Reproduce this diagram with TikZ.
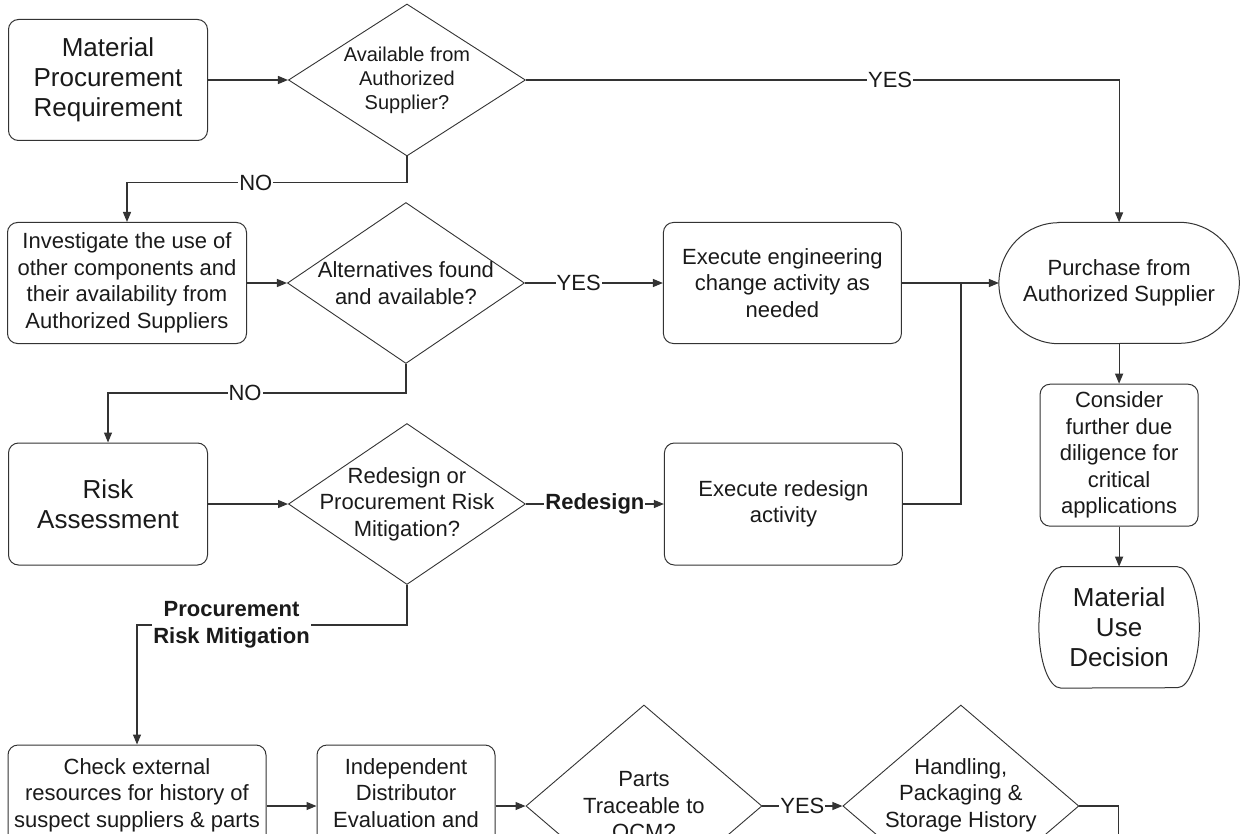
\documentclass[tikz,border=0pt]{standalone}
\usepackage{fontspec}
\setmainfont{Liberation Sans}
\usetikzlibrary{shapes.geometric, arrows.meta, positioning, calc}

\definecolor{linec}{HTML}{333333}
\definecolor{textc}{HTML}{1A1A1A}
\newcommand{\fbig}{\fontsize{26}{30}\selectfont}
\newcommand{\fmid}{\fontsize{22}{26.5}\selectfont}
\newcommand{\fsmall}{\fontsize{20}{24}\selectfont}
% outline of a terminal node: flat top and bottom, half-ellipse ends
\newcommand{\ovalbox}[2]{\draw[draw=linec, line width=1pt] ([xshift=#2]#1.north west) -- ([xshift=-#2]#1.north east) arc[start angle=90, end angle=-90, x radius=#2, y radius=60.5pt] -- ([xshift=#2]#1.south west) arc[start angle=270, end angle=90, x radius=#2, y radius=60.5pt] -- cycle;}

\begin{document}
\begin{tikzpicture}[x=1pt, y=1pt,
  proc/.style={draw=linec, line width=1pt, rounded corners=10pt, align=center, text=textc, font=\fmid, inner sep=4pt},
  decision/.style={diamond, draw=linec, line width=0.9pt, align=center, text=textc, font=\fmid, inner xsep=-300pt, inner ysep=-300pt, minimum width=237pt, minimum height=161pt},
  termin/.style={rectangle, align=center, text=textc, inner sep=4pt, minimum height=121pt},
  flow/.style={draw=linec, line width=1.2pt, -{Triangle[length=10pt, width=8pt]}},
  lbl/.style={fill=white, inner sep=1pt, text=textc, font=\fmid}]
\useasboundingbox (0,0) rectangle (1241,-834);
\clip (0,0) rectangle (1241,-834);

\node[proc, font=\fbig, minimum width=199pt, minimum height=121pt] (mpr) at (108,-80) {Material\\Procurement\\Requirement};
\node[decision, font=\fsmall, minimum height=152pt, right=80pt of mpr] (avail) {Available from\\Authorized\\Supplier?};
\node[proc, minimum width=239pt, minimum height=121pt] (invest) at (127,-283) {Investigate the use of\\other components and\\their availability from\\Authorized Suppliers};
\node[decision, right=40pt of invest] (altern) {Alternatives found\\and available?};
\node[proc, minimum width=238pt, minimum height=121pt, right=138pt of altern] (engchg) {Execute engineering\\change activity as\\needed};
\node[termin, font=\fmid, minimum width=240pt, right=97pt of engchg] (purchase) {Purchase from\\Authorized Supplier};
\node[proc, minimum width=158pt, minimum height=142pt, below=40pt of purchase] (consider) {Consider\\further due\\diligence for\\critical\\applications};
\node[termin, font=\fbig, minimum width=160pt, below=40pt of consider] (matuse) {Material\\Use\\Decision};
\ovalbox{purchase}{60pt}
\ovalbox{matuse}{22pt}

\node[proc, font=\fbig, minimum width=199pt, minimum height=122pt] (risk) at (108,-504) {Risk\\Assessment};
\node[decision, right=80pt of risk] (redes) {Redesign or\\Procurement Risk\\Mitigation?};
\node[proc, minimum width=238pt, minimum height=122pt, right=138pt of redes] (exredes) {Execute redesign\\activity};

\node[proc, minimum width=258pt, minimum height=122pt] (check) at (137,-806) {Check external\\resources for history of\\suspect suppliers \& parts\\\mbox{}};
\node[proc, minimum width=178pt, minimum height=122pt, right=50pt of check] (indep) {Independent\\Distributor\\Evaluation and\\\mbox{}};
\node[decision, minimum width=236pt, minimum height=202pt, right=30pt of indep] (trace) {Parts\\Traceable to\\OCM?};
\node[decision, minimum width=236pt, minimum height=202pt, right=80pt of trace] (handling) {Handling,\\Packaging \&\\Storage History\\\mbox{}};

\coordinate (join) at ($(engchg.east)+(59,0)$);

\draw[flow] (mpr) -- (avail);
\draw[flow] (avail.east) -- node[lbl, pos=.614]{YES} (avail.east -| purchase.north) -- (purchase.north);
\draw[flow] (avail.south) -- ++(0,-26) -| node[lbl, pos=.27]{NO} (invest.north);
\draw[flow] (invest) -- (altern);
\draw[flow] (altern) -- node[lbl, pos=.39]{YES} (engchg);
\draw[flow] (altern.south) -- ++(0,-29) -| node[lbl, pos=.27]{NO} (risk.north);
\draw[flow] (engchg) -- (purchase);
\draw[flow] (purchase) -- (consider);
\draw[flow] (consider) -- (matuse);
\draw[flow] (risk) -- (redes);
\draw[flow] (redes) -- node[lbl, font=\fmid\bfseries]{Redesign} (exredes);
\draw[draw=linec, line width=1.2pt] (exredes.east) -| (join);
\draw[flow] (redes.south) -- ++(0,-40) -| node[lbl, align=center, font=\fmid\bfseries, pos=.325]{Procurement\\Risk Mitigation} (check.north);
\draw[flow] (check) -- (indep);
\draw[flow] (indep) -- (trace);
\draw[flow] (trace) -- node[lbl]{YES} (handling);
\draw[draw=linec, line width=1.2pt] (handling.east) -- ++(39,0) -- ++(0,-80);
\end{tikzpicture}
\end{document}
